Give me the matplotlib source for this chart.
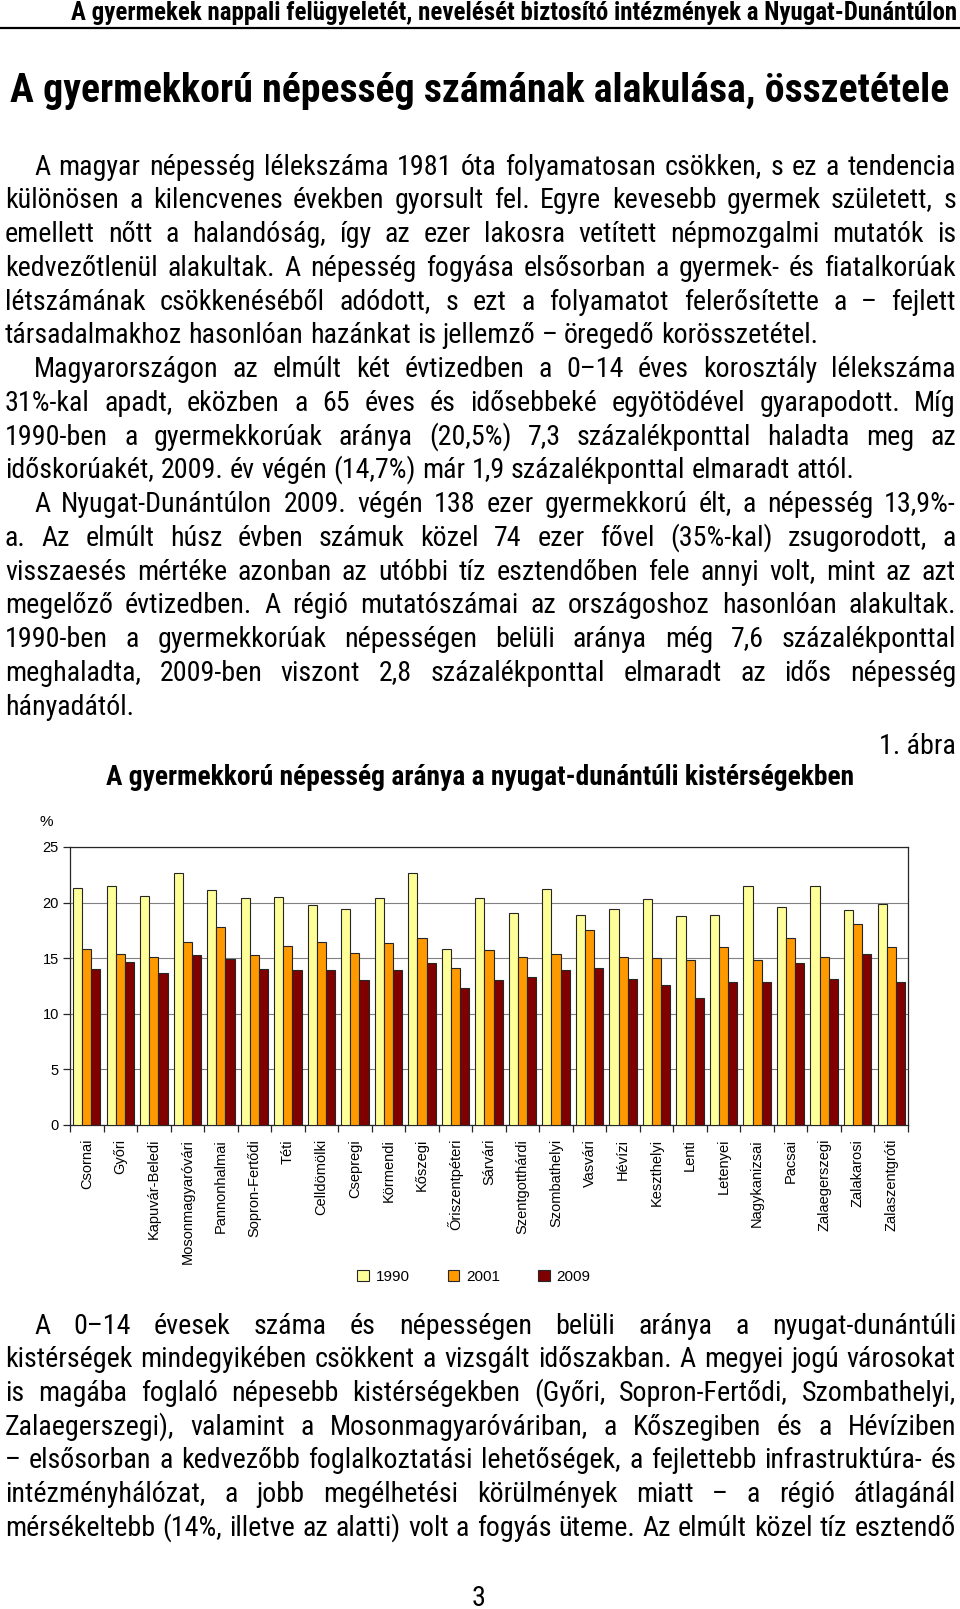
import numpy as np
import matplotlib
matplotlib.use("Agg")
import matplotlib.pyplot as plt
from matplotlib.lines import Line2D
from matplotlib.font_manager import FontProperties, fontManager, get_font
from matplotlib.backends.backend_agg import get_hinting_flag

W, H = 960, 1609
NARROW = ['Roboto Condensed', 'Liberation Sans', 'DejaVu Sans']
REG = ['Liberation Sans', 'DejaVu Sans']

# chart data
categories = ['Csornai', 'Győri', 'Kapuvár-Beledi', 'Mosonmagyaróvári', 'Pannonhalmai',
              'Sopron-Fertődi', 'Téti', 'Celldömölki', 'Csepregi', 'Körmendi', 'Kőszegi',
              'Őriszentpéteri', 'Sárvári', 'Szentgotthárdi', 'Szombathelyi', 'Vasvári',
              'Hévízi', 'Keszthelyi', 'Lenti', 'Letenyei', 'Nagykanizsai', 'Pacsai',
              'Zalaegerszegi', 'Zalakarosi', 'Zalaszentgróti']
v1990 = [21.3, 21.5, 20.6, 22.7, 21.1, 20.4, 20.5, 19.8, 19.4, 20.4, 22.7, 15.8, 20.4,
         19.1, 21.2, 18.9, 19.4, 20.3, 18.8, 18.9, 21.5, 19.6, 21.5, 19.3, 19.9]
v2001 = [15.8, 15.4, 15.1, 16.5, 17.8, 15.3, 16.1, 16.5, 15.5, 16.4, 16.8, 14.1, 15.7,
         15.1, 15.4, 17.5, 15.1, 15.0, 14.8, 16.0, 14.8, 16.8, 15.1, 18.1, 16.0]
v2009 = [14.0, 14.7, 13.7, 15.3, 14.9, 14.0, 13.9, 13.9, 13.0, 13.9, 14.6, 12.3, 13.0,
         13.3, 13.9, 14.1, 13.1, 12.6, 11.4, 12.9, 12.9, 14.6, 13.1, 15.4, 12.9]
years = ['1990', '2001', '2009']
bar_colors = ['#FFFF99', '#FF9900', '#800000']

header = "A gyermekek nappali felügyeletét, nevelését biztosító intézmények a Nyugat-Dunántúlon"
main_title = "A gyermekkorú népesség számának alakulása, összetétele"
chart_title = "A gyermekkorú népesség aránya a nyugat-dunántúli kistérségekben"

# (text, indented, justified)
top_lines = [
    ("A magyar népesség lélekszáma 1981 óta folyamatosan csökken, s ez a tendencia", True, True),
    ("különösen a kilencvenes években gyorsult fel. Egyre kevesebb gyermek született, s", False, True),
    ("emellett nőtt a halandóság, így az ezer lakosra vetített népmozgalmi mutatók is", False, True),
    ("kedvezőtlenül alakultak. A népesség fogyása elsősorban a gyermek- és fiatalkorúak", False, True),
    ("létszámának csökkenéséből adódott, s ezt a folyamatot felerősítette a – fejlett", False, True),
    ("társadalmakhoz hasonlóan hazánkat is jellemző – öregedő korösszetétel.", False, False),
    ("Magyarországon az elmúlt két évtizedben a 0–14 éves korosztály lélekszáma", True, True),
    ("31%-kal apadt, eközben a 65 éves és idősebbeké egyötödével gyarapodott. Míg", False, True),
    ("1990-ben a gyermekkorúak aránya (20,5%) 7,3 százalékponttal haladta meg az", False, True),
    ("időskorúakét, 2009. év végén (14,7%) már 1,9 százalékponttal elmaradt attól.", False, False),
    ("A Nyugat-Dunántúlon 2009. végén 138 ezer gyermekkorú élt, a népesség 13,9%-", True, True),
    ("a. Az elmúlt húsz évben számuk közel 74 ezer fővel (35%-kal) zsugorodott, a", False, True),
    ("visszaesés mértéke azonban az utóbbi tíz esztendőben fele annyi volt, mint az azt", False, True),
    ("megelőző évtizedben. A régió mutatószámai az országoshoz hasonlóan alakultak.", False, True),
    ("1990-ben a gyermekkorúak népességen belüli aránya még 7,6 százalékponttal", False, True),
    ("meghaladta, 2009-ben viszont 2,8 százalékponttal elmaradt az idős népesség", False, True),
    ("hányadától.", False, False),
]
bottom_lines = [
    ("A 0–14 évesek száma és népességen belüli aránya a nyugat-dunántúli", True, True),
    ("kistérségek mindegyikében csökkent a vizsgált időszakban. A megyei jogú városokat", False, True),
    ("is magába foglaló népesebb kistérségekben (Győri, Sopron-Fertődi, Szombathelyi,", False, True),
    ("Zalaegerszegi), valamint a Mosonmagyaróváriban, a Kőszegiben és a Hévíziben", False, True),
    ("– elsősorban a kedvezőbb foglalkoztatási lehetőségek, a fejlettebb infrastruktúra- és", False, True),
    ("intézményhálózat, a jobb megélhetési körülmények miatt – a régió átlagánál", False, True),
    ("mérsékeltebb (14%, illetve az alatti) volt a fogyás üteme. Az elmúlt közel tíz esztendő", False, True),
]

fig = plt.figure(figsize=(W / 100, H / 100), dpi=100)
renderer = fig.canvas.get_renderer()


def fy(y):
    return 1 - y / H


def text_width(s, size, family=NARROW, weight='normal'):
    t = fig.text(0, 0, s, fontsize=size, family=family, weight=weight)
    w = t.get_window_extent(renderer).width
    t.remove()
    return w


def fit_size(text, width, family, weight='normal'):
    return 20 * width / text_width(text, 20, family, weight)


def baseline_for(word, size, row):
    # Agg places each string by its own ink box; pick the float baseline that
    # lands every word on the same pixel row
    font = get_font(fontManager._find_fonts_by_props(FontProperties(family=NARROW, size=size)))
    font.clear()
    font.set_size(size, 100)
    font.set_text(word, 0, flags=get_hinting_flag())
    h = font.get_width_height()[1] / 64
    d = font.get_descent() / 64
    return row + np.floor(h) - np.floor(h - d) - d


def put_line(text, y, x0, x1, size, just):
    row = round(y + 0.34 * size * 100 / 72)
    words = text.split(' ')
    widths = [text_width(w, size) for w in words]
    if just and len(words) > 1:
        gap = (x1 - x0 - sum(widths)) / (len(words) - 1)
    else:
        gap = text_width('i i', size) - text_width('ii', size)
    xpos = x0
    for w, wd in zip(words, widths):
        fig.text(xpos / W, fy(baseline_for(w, size, row)), w, fontsize=size, family=NARROW,
                 va='baseline', ha='left')
        xpos += wd + gap


# header
hs_ = fit_size(header, 882, NARROW, 'bold')
fig.text(957 / W, fy(13), header, fontsize=hs_, family=NARROW, weight='bold', ha='right', va='center')
fig.add_artist(Line2D([0, 1], [fy(28), fy(28)], transform=fig.transFigure, color='black', lw=1.6))

ts = fit_size(main_title, 939, NARROW, 'bold')
fig.text(10 / W, fy(91), main_title, fontsize=ts, family=NARROW, weight='bold', ha='left', va='center')

body = fit_size(top_lines[5][0], 814, NARROW)
for i, (txt, ind, just) in enumerate(top_lines):
    put_line(txt, 165 + i * 33.75, 34 if ind else 5, 956, body, just)
for i, (txt, ind, just) in enumerate(bottom_lines):
    put_line(txt, 1324 + i * 33.67, 34 if ind else 5, 956, body, just)

fig.text(956 / W, fy(746), "1. ábra", fontsize=body, family=NARROW, ha='right', va='center')
cs = fit_size(chart_title, 748, NARROW, 'bold')
fig.text(480 / W, fy(778), chart_title, fontsize=cs, family=NARROW, weight='bold', ha='center', va='center')
fig.text(46 / W, fy(822), "%", fontsize=11, family=REG, ha='center', va='center')
fig.text(479 / W, fy(1598), "3", fontsize=body, family=NARROW, ha='center', va='center')

# chart
ax = fig.add_axes([70 / W, fy(1125), 838 / W, 278 / H])
x = np.arange(len(categories))
bw = 0.273
for k, (vals, yr, c) in enumerate(zip([v1990, v2001, v2009], years, bar_colors)):
    ax.bar(x + (k - 1) * bw, vals, bw, color=c, edgecolor='#262626', linewidth=0.8,
           label=yr, zorder=3)

ax.set_xlim(-0.5, len(categories) - 0.5)
ax.set_ylim(0, 25)
ax.set_yticks(np.arange(0, 26, 5))
ax.yaxis.grid(True, color='#808080', lw=0.8, zorder=0)
ax.set_xticks(np.arange(-0.5, len(categories)), labels=[])
ax.set_xticks(x, labels=categories, minor=True)
ax.tick_params(axis='x', which='major', length=5, width=0.9, color='#262626')
ax.tick_params(axis='x', which='minor', length=0, pad=10, labelsize=10.5, labelrotation=90)
ax.tick_params(axis='y', length=5, width=0.9, color='#262626', labelsize=10.5, pad=3)
for lab in ax.get_xticklabels(minor=True) + ax.get_yticklabels():
    lab.set_family(REG)
for s in ax.spines.values():
    s.set_color('#262626')
    s.set_linewidth(0.9)

ax.legend(ncol=3, loc='center', bbox_to_anchor=(474 / W, fy(1277)), bbox_transform=fig.transFigure,
          frameon=False, handlelength=0.75, handleheight=0.75, handletextpad=0.45,
          columnspacing=2.5, prop={'family': REG, 'size': 11})

fig.savefig("out.png", dpi=100)
